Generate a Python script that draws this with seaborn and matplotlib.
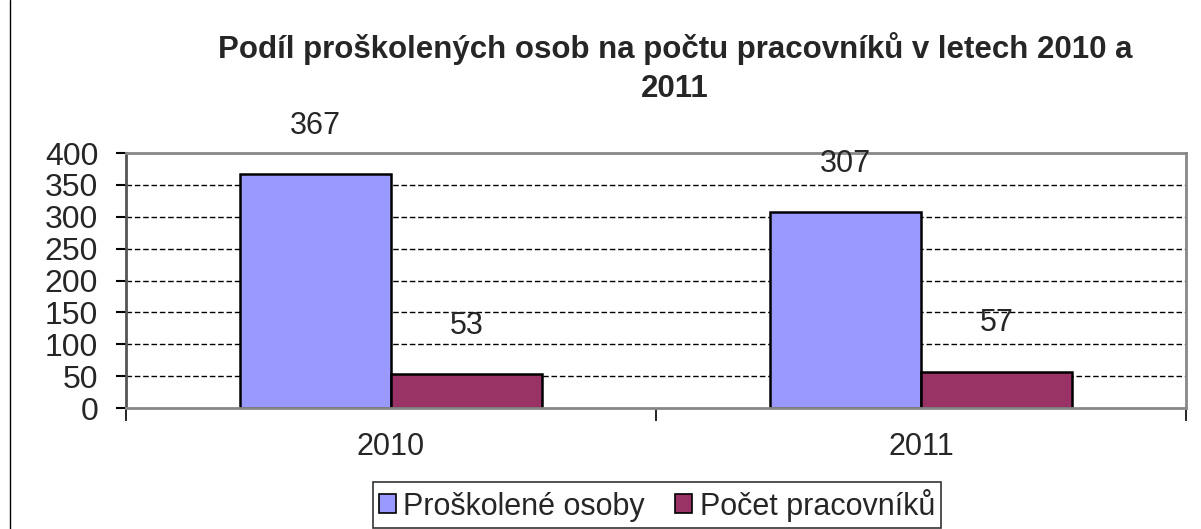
import matplotlib
matplotlib.use("Agg")
import matplotlib.pyplot as plt
import seaborn as sns
import pandas as pd
from matplotlib.lines import Line2D
from matplotlib.patches import Patch

years = ["2010", "2011"]
series_names = ["Proškolené osoby", "Počet pracovníků"]
trained = [367, 307]
workers = [53, 57]
yticks = [0, 50, 100, 150, 200, 250, 300, 350, 400]
title = "Podíl proškolených osob na počtu pracovníků v letech 2010 a\n2011"

df = pd.DataFrame({
    "year": years * 2,
    "series": [series_names[0]] * 2 + [series_names[1]] * 2,
    "value": trained + workers,
})

sns.set_style("white")
plt.rcParams["font.family"] = ["Liberation Sans", "DejaVu Sans"]

colors = ["#9999FF", "#993366"]
fig = plt.figure(figsize=(12.01, 5.29), dpi=100)
ax = fig.add_axes([126 / 1201, 1 - 408 / 529, (1186 - 126) / 1201, (408 - 153) / 529])

sns.barplot(data=df, x="year", y="value", hue="series", order=years,
            hue_order=series_names, palette=colors, width=0.57,
            edgecolor="black", linewidth=1.8, saturation=1, ax=ax, legend=False)

ax.set_xlim(-0.5, 1.5)
ax.set_ylim(0, 400)
ax.set_yticks(yticks)
ax.set_yticklabels([str(v) for v in yticks], fontsize=23)
ax.tick_params(axis="y", direction="out", length=7, width=1.5, color="black", pad=13, left=True)
ax.tick_params(axis="x", which="major", length=0, labelsize=22, pad=17)
ax.set_xticks([-0.5, 0.5, 1.5], minor=True)
ax.tick_params(axis="x", which="minor", direction="out", length=9, width=1.2, color="black", bottom=True)
ax.set_xlabel("")
ax.set_ylabel("")

for y in yticks[1:-1]:
    ax.axhline(y, color="black", linestyle=(0, (4, 2)), linewidth=1.0, zorder=0.5)

for side in ["left", "right", "top", "bottom"]:
    ax.spines[side].set_visible(True)
    ax.spines[side].set_linewidth(2)
ax.spines["left"].set_color("#555555")
ax.spines["right"].set_color("#888888")
ax.spines["top"].set_color("#888888")
ax.spines["bottom"].set_color("#888888")

for container in ax.containers:
    ax.bar_label(container, labels=[str(int(v)) for v in container.datavalues],
                 padding=24, fontsize=22)

fig.text(675 / 1201, 1 - 68 / 529, title, ha="center", va="center",
         fontsize=22.5, fontweight="bold", linespacing=1.4)

handles = [Patch(facecolor=c, edgecolor="black", linewidth=1.2) for c in colors]
leg = fig.legend(handles, series_names, loc="center", bbox_to_anchor=(657 / 1201, 1 - 505 / 529),
                 ncol=2, fontsize=22, frameon=True, fancybox=False, edgecolor="black",
                 handlelength=0.55, handleheight=0.55, handletextpad=0.25, columnspacing=1.0,
                 borderpad=0.2)
leg.get_frame().set_linewidth(1.2)

fig.add_artist(Line2D([10 / 1201, 10 / 1201], [0, 1], color="black", linewidth=1))

fig.savefig("out.png", dpi=100, facecolor="white")
